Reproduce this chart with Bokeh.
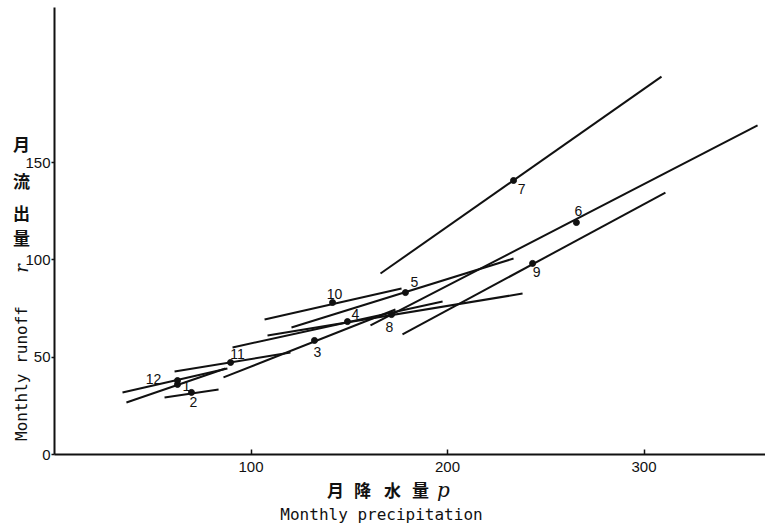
import math
from bokeh.plotting import figure
from bokeh.models import Range1d, FixedTicker, Label, ColumnDataSource
from bokeh.core.properties import value
from bokeh.embed import file_html
from bokeh.resources import INLINE

# ---- data ----
months = ["1", "2", "3", "4", "5", "6", "7", "8", "9", "10", "11", "12"]
mean_p = [62.6, 69.7, 132.3, 149.1, 178.6, 265.6, 233.6, 171.5, 243.3, 141.5, 89.6, 62.6]
mean_r = [36.0, 31.9, 58.6, 68.3, 83.2, 119.2, 140.8, 71.9, 98.2, 78.1, 47.3, 38.0]
seg_p_start = [36.6, 56.0, 86.0, 90.6, 120.6, 160.8, 165.9, 108.4, 177.1, 106.9, 61.1, 34.6]
seg_r_start = [26.7, 29.3, 39.6, 55.0, 65.3, 66.3, 93.0, 61.2, 61.7, 69.4, 42.7, 31.9]
seg_p_end = [87.0, 83.5, 173.5, 197.5, 233.6, 357.8, 308.9, 238.2, 310.9, 176.6, 120.1, 88.0]
seg_r_end = [44.2, 33.4, 74.5, 78.6, 100.7, 169.1, 194.2, 82.7, 134.6, 85.3, 52.4, 44.2]
x_ticks = [100, 200, 300]
y_ticks = [0, 50, 100, 150]

# label offsets in screen pixels (styling)
lab_dx = [9, 2, 3, 8, 9, 2, 8, -2, 4, 2, 7, -24]
lab_dy = [2, 10, 12, -8, -11, -12, 8, 12, 9, -9, -8, -2]

src = ColumnDataSource(dict(
    m=months, p=mean_p, r=mean_r,
    x0=seg_p_start, y0=seg_r_start, x1=seg_p_end, y1=seg_r_end,
    dx=lab_dx, dy=lab_dy,
))

# scale: page px -> data
SX, X0 = 1.965, 54.0
SY, Y0 = 1.946, 454.0
W, H = 765, 528

p = figure(width=W, height=H,
           x_range=Range1d((0 - X0) / SX, (W - X0) / SX),
           y_range=Range1d((Y0 - H) / SY, Y0 / SY),
           output_backend="svg", toolbar_location=None,
           min_border=0, min_border_left=0, min_border_right=0,
           min_border_top=0, min_border_bottom=0)
p.outline_line_color = None
p.xgrid.visible = False
p.ygrid.visible = False
p.background_fill_color = "white"
p.border_fill_color = "white"

for ax in (p.xaxis[0], p.yaxis[0]):
    ax.fixed_location = 0
    ax.axis_line_width = 2
    ax.axis_line_color = "#111111"
    ax.major_tick_line_color = "#111111"
    ax.major_tick_line_width = 1.5
    ax.minor_tick_line_color = None
    ax.major_label_text_font = "Liberation Sans"
    ax.major_label_text_font_size = "15px"
    ax.major_label_text_color = "#111111"

p.xaxis.bounds = (0, (W - X0) / SX)
p.yaxis.bounds = (0, (Y0 - 7) / SY)
p.xaxis.ticker = FixedTicker(ticks=x_ticks)
p.yaxis.ticker = FixedTicker(ticks=y_ticks)
p.xaxis.major_tick_in = 5
p.xaxis.major_tick_out = 0
p.xaxis.major_label_standoff = 7
p.yaxis.major_tick_in = 0
p.yaxis.major_tick_out = 3
p.yaxis.major_label_standoff = 1

p.segment(x0="x0", y0="y0", x1="x1", y1="y1", source=src,
          line_color="#111111", line_width=2)
p.scatter(x="p", y="r", source=src, size=6, fill_color="#111111",
          line_color="#111111")
p.text(x="p", y="r", text="m", source=src, x_offset="dx", y_offset="dy",
       text_font=value("Liberation Sans"), text_font_size="14px",
       text_color="#111111", text_align="center", text_baseline="middle")


def put(txt, px, py, font, size, angle=0.0, style="normal"):
    # px, py are page positions converted to data coordinates
    x = (px - X0) / SX
    y = (Y0 - py) / SY
    p.add_layout(Label(x=x, y=y, text=txt, text_font=font,
                       text_font_size=size, text_align="center",
                       text_baseline="middle", angle=angle,
                       text_font_style=style, text_color="#111111"))


# y-axis title
put("Monthly runoff", 21, 373, "DejaVu Sans Mono", "16px", angle=math.pi / 2)
for ch, yy in zip(["月", "流", "出", "量"], [143, 180, 212, 237]):
    put(ch, 21, yy, "Noto Sans CJK JP", "17px", style="bold")
put("r", 21, 268, "DejaVu Serif", "18px", angle=math.pi / 2, style="italic")

# x-axis title
for ch, xx in zip(["月", "降", "水", "量"], [335, 362, 392, 420]):
    put(ch, xx, 489, "Noto Sans CJK JP", "17px", style="bold")
put("p", 443, 489, "DejaVu Serif", "20px", style="italic")
put("Monthly precipitation", 381, 514, "DejaVu Sans Mono", "16px")

open("out.html", "w").write(file_html(p, INLINE))
